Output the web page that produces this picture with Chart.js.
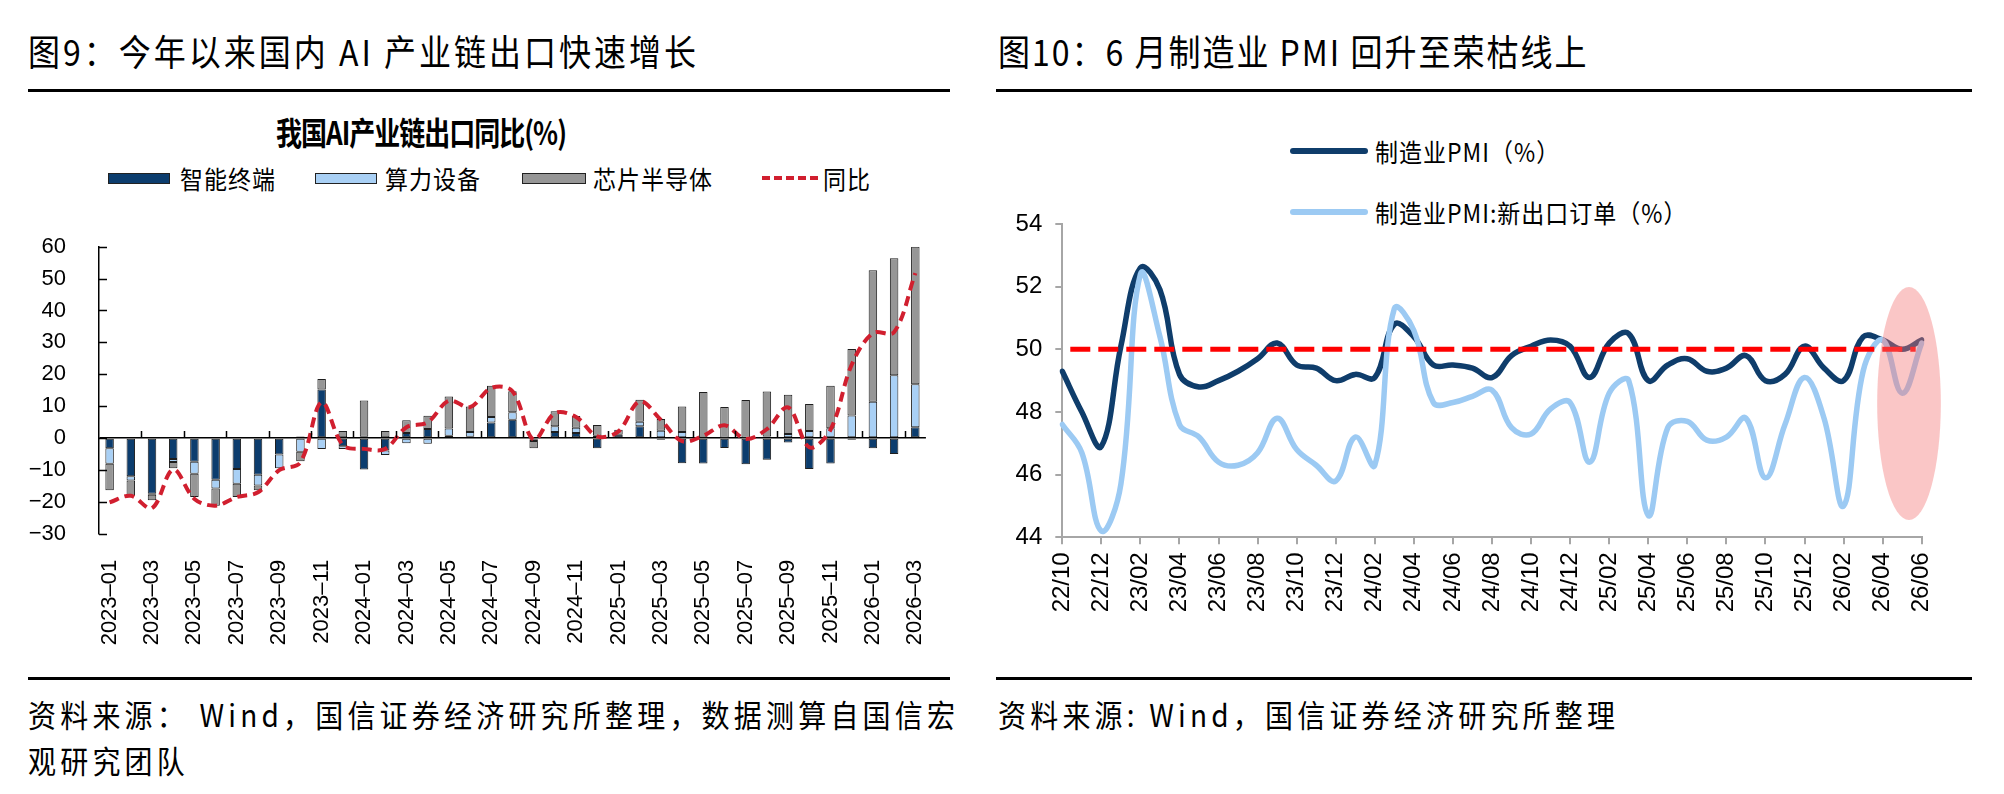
<!DOCTYPE html>
<html>
<head>
<meta charset="utf-8">
<script src="https://cdn.jsdelivr.net/npm/chart.js@4.4.1/dist/chart.umd.min.js"></script>
<style>
html,body{margin:0;padding:0;background:#fff;}
body{width:2004px;height:794px;position:relative;overflow:hidden;font-family:"Noto Sans CJK SC","Noto Sans",sans-serif;color:#000;}
.abs{position:absolute;white-space:nowrap;}
.title{font-size:32px;line-height:36px;height:36px;letter-spacing:3px;transform:scaleY(1.12);transform-origin:left center;}
.rule{position:absolute;height:3px;background:#000;}
.ctitle{font-size:26px;font-weight:700;line-height:30px;letter-spacing:-1px;text-align:center;transform:scaleY(1.22);}
.leg{font-size:23px;line-height:28px;letter-spacing:1px;transform:scaleY(1.1);transform-origin:left center;}
.box{position:absolute;height:9px;border:1px solid #222;}
.src{font-size:28px;line-height:34px;letter-spacing:4.2px;transform:scaleY(1.1);transform-origin:left center;}
canvas{position:absolute;}
</style>
</head>
<body>
<!-- Left panel -->
<div class="abs title" style="left:28px;top:32px;">图9：今年以来国内 AI 产业链出口快速增长</div>
<div class="rule" style="left:28px;top:89px;width:922px;"></div>
<div class="abs ctitle" style="left:0;width:842px;top:117px;">我国AI产业链出口同比(%)</div>

<div class="box" style="left:108px;top:173px;width:60px;background:#0c3d6e;"></div>
<div class="abs leg" style="left:180px;top:164px;">智能终端</div>
<div class="box" style="left:315px;top:173px;width:60px;background:#a9d0f5;"></div>
<div class="abs leg" style="left:385px;top:164px;">算力设备</div>
<div class="box" style="left:522px;top:173px;width:62px;background:#969696;"></div>
<div class="abs leg" style="left:593px;top:164px;">芯片半导体</div>
<div class="abs" style="left:762px;top:176px;width:56px;height:4px;background:repeating-linear-gradient(90deg,#d11f2f 0 8px,rgba(0,0,0,0) 8px 12px);"></div>
<div class="abs leg" style="left:823px;top:164px;">同比</div>

<canvas id="c1" width="960" height="460" style="left:0;top:200px;"></canvas>

<!-- Right panel -->
<div class="abs title" style="left:998px;top:32px;letter-spacing:2px;">图10：6 月制造业 PMI 回升至荣枯线上</div>
<div class="rule" style="left:996px;top:89px;width:976px;"></div>

<div class="abs" style="left:1290px;top:148px;width:78px;height:6px;border-radius:3px;background:#0f3d6b;"></div>
<div class="abs leg" style="left:1375px;top:137px;">制造业PMI（%）</div>
<div class="abs" style="left:1290px;top:209px;width:78px;height:6px;border-radius:3px;background:#9ccaf3;"></div>
<div class="abs leg" style="left:1375px;top:198px;">制造业PMI:新出口订单（%）</div>

<canvas id="c2" width="1044" height="470" style="left:960px;top:190px;"></canvas>

<!-- Sources -->
<div class="rule" style="left:28px;top:677px;width:922px;"></div>
<div class="rule" style="left:996px;top:677px;width:976px;"></div>
<div class="abs src" style="left:28px;top:697px;">资料来源： Wind，国信证券经济研究所整理，数据测算自国信宏</div>
<div class="abs src" style="left:28px;top:743px;">观研究团队</div>
<div class="abs src" style="left:998px;top:697px;">资料来源: Wind，国信证券经济研究所整理</div>

<script>
// ---------- Left chart data ----------
const months = ['2023-01','2023-02','2023-03','2023-04','2023-05','2023-06','2023-07','2023-08','2023-09','2023-10','2023-11','2023-12',
  '2024-01','2024-02','2024-03','2024-04','2024-05','2024-06','2024-07','2024-08','2024-09','2024-10','2024-11','2024-12',
  '2025-01','2025-02','2025-03','2025-04','2025-05','2025-06','2025-07','2025-08','2025-09','2025-10','2025-11','2025-12',
  '2026-01','2026-02','2026-03'];
const smartTerminal = [-3.2,-12.0,-17.5,-6.6,-7.4,-13.1,-9.7,-11.5,-5.2,0.5,15.2,-2.6,
  -9.9,-3.9,1.6,2.8,0.7,0.4,4.9,5.7,-0.4,1.9,1.6,-3.2,
  1.0,3.7,-0.5,-7.9,-8.0,-3.1,-8.2,-6.8,-1.4,-9.7,-8.0,-0.5,
  -3.2,-5.0,3.4];
const computeEquip = [-4.9,-1.3,-0.3,-0.9,-3.8,-2.7,-4.6,-3.4,-4.3,-4.3,-3.4,-0.8,
  0.4,-1.4,-1.6,-1.8,2.3,1.5,1.7,2.4,-0.5,1.8,1.6,0.7,
  0.0,1.4,2.3,1.9,0.2,0.1,0.1,0.5,1.3,2.2,3.1,7.1,
  11.4,19.7,13.5];
const chipSemi = [-8.3,-4.8,-1.7,-2.0,-7.3,-5.4,-4.2,-1.5,0.0,-3.0,3.3,2.2,
  11.4,2.2,4.0,4.2,10.0,8.0,9.8,6.6,-2.3,4.7,3.7,3.4,
  1.6,6.9,3.7,8.0,14.2,9.6,11.8,14.1,12.3,8.5,13.3,20.8,
  41.2,36.7,43.1];
const yoy = [-20.2,-18.1,-22.0,-9.9,-19.1,-21.2,-18.5,-17.0,-10.1,-7.6,11.2,-2.2,
  -3.4,-3.4,3.4,4.9,11.7,9.7,15.7,14.7,-0.5,7.8,6.6,0.5,
  2.1,11.5,5.7,-1.0,0.7,4.0,-0.3,2.8,9.6,-2.9,2.6,23.0,
  32.9,33.2,51.7];
const leftAxis = {min:-30, max:60, step:10};

// ---------- Right chart data ----------
const pmiMonths = ['22/10','22/11','22/12','23/01','23/02','23/03','23/04','23/05','23/06','23/07','23/08','23/09','23/10','23/11','23/12',
  '24/01','24/02','24/03','24/04','24/05','24/06','24/07','24/08','24/09','24/10','24/11','24/12',
  '25/01','25/02','25/03','25/04','25/05','25/06','25/07','25/08','25/09','25/10','25/11','25/12',
  '26/01','26/02','26/03','26/04','26/05','26/06'];
const pmi = [49.3,48.0,46.9,50.1,52.6,51.9,49.2,48.8,49.0,49.3,49.7,50.2,49.5,49.4,49.0,
  49.2,49.1,50.8,50.4,49.5,49.5,49.4,49.1,49.8,50.1,50.3,50.1,
  49.1,50.2,50.5,49.0,49.5,49.7,49.3,49.4,49.8,49.0,49.2,50.1,
  49.4,49.0,50.4,50.3,50.0,50.3];
const pmiNewExport = [47.6,46.7,44.2,45.7,52.4,50.4,47.6,47.2,46.4,46.3,46.7,47.8,46.8,46.3,45.8,
  47.2,46.3,51.3,50.6,48.3,48.3,48.5,48.7,47.5,47.3,48.1,48.3,
  46.4,48.6,49.0,44.7,47.5,47.7,47.1,47.2,47.8,45.9,47.6,49.1,
  47.8,45.0,49.3,50.3,48.6,50.2];
const boomBustLine = 50;
const rightAxis = {min:44, max:54, step:2};
const highlight = {fromIndex:41.72, toIndex:44.98, yMin:44.55, yMax:51.99};

const numFont = 'Liberation Sans, Arial, sans-serif';
const minus = s => String(s).replace('-', '\u2212');

// ---------- Left chart ----------
const innerTicks = {
  id:'innerTicks',
  afterDraw(chart){
    const {ctx, scales:{x, y}} = chart;
    ctx.save();
    ctx.strokeStyle = '#000';
    ctx.lineWidth = 1.5;
    ctx.beginPath();
    y.ticks.forEach((t, i) => {
      const py = Math.round(y.getPixelForTick(i)) + 0.5;
      ctx.moveTo(y.right, py); ctx.lineTo(y.right + 8, py);
    });
    const zero = y.getPixelForValue(0);
    for (let k = 1; k < months.length - 1; k += 2) {
      const px = Math.round((x.getPixelForValue(k) + x.getPixelForValue(k + 1)) / 2) + 0.5;
      ctx.moveTo(px, zero); ctx.lineTo(px, zero - 7);
    }
    ctx.stroke();
    ctx.restore();
  }
};

const barCommon = {borderColor:'#1e1e1e', borderWidth:1, borderSkipped:false, stack:'bars', order:1,
  barPercentage:0.4, categoryPercentage:1.0};

new Chart(document.getElementById('c1'), {
  type:'bar',
  data:{
    labels: months,
    datasets:[
      Object.assign({label:'智能终端', data:smartTerminal, backgroundColor:'#0c3d6e'}, barCommon),
      Object.assign({label:'算力设备', data:computeEquip, backgroundColor:'#a9d0f5'}, barCommon),
      Object.assign({label:'芯片半导体', data:chipSemi, backgroundColor:'#969696'}, barCommon),
      {type:'line', label:'同比', data:yoy, borderColor:'#d11f2f', borderWidth:4, borderDash:[10,6],
       tension:0.35, pointRadius:0, fill:false, stack:'line', order:0, borderCapStyle:'butt'}
    ]
  },
  options:{
    responsive:false, animation:false, devicePixelRatio:1,
    layout:{padding:{top:46.7, right:22.5, left:0, bottom:0}},
    plugins:{legend:{display:false}, tooltip:{enabled:false}},
    scales:{
      x:{stacked:true, grid:{display:false}, border:{display:false},
         ticks:{autoSkip:false, maxRotation:90, minRotation:90, padding:18, color:'#000',
                font:{family:numFont, size:22},
                callback:(v, i) => i % 2 === 0 ? months[i].replace('-', '\u2013') : ''},
         afterFit:s => { s.height = 126.3; }},
      y:{stacked:true, min:leftAxis.min, max:leftAxis.max,
         ticks:{stepSize:leftAxis.step, padding:33, color:'#000', font:{family:numFont, size:22},
                callback:v => minus(v)},
         grid:{drawTicks:false, lineWidth:1.5,
               color:c => (c.tick && c.tick.value === 0) ? '#000' : 'rgba(0,0,0,0)'},
         border:{color:'#000', width:1.5},
         afterFit:s => { s.width = 99; }}
    }
  },
  plugins:[innerTicks]
});

// ---------- Right chart ----------
const overlay = {
  id:'overlay',
  afterDatasetsDraw(chart){
    const {ctx, chartArea, scales:{x, y}} = chart;
    ctx.save();
    // 荣枯线 (50)
    const py = y.getPixelForValue(boomBustLine);
    ctx.strokeStyle = '#ff0000';
    ctx.lineWidth = 5;
    ctx.setLineDash([20, 8]);
    ctx.beginPath();
    ctx.moveTo(chartArea.left + 8, py);
    ctx.lineTo(chartArea.right - 6, py);
    ctx.stroke();
    ctx.setLineDash([]);
    // highlight ellipse
    const x0 = x.getPixelForValue(highlight.fromIndex), x1 = x.getPixelForValue(highlight.toIndex);
    const y0 = y.getPixelForValue(highlight.yMax), y1 = y.getPixelForValue(highlight.yMin);
    ctx.fillStyle = 'rgba(242,120,120,0.42)';
    ctx.beginPath();
    ctx.ellipse((x0 + x1) / 2, (y0 + y1) / 2, Math.abs(x1 - x0) / 2, Math.abs(y1 - y0) / 2, 0, 0, Math.PI * 2);
    ctx.fill();
    ctx.restore();
  }
};

const axisGray = '#a6a6a6';
new Chart(document.getElementById('c2'), {
  type:'line',
  data:{
    labels: pmiMonths,
    datasets:[
      {label:'制造业PMI（%）', data:pmi, borderColor:'#0f3d6b', borderWidth:5.5, tension:0.4,
       pointRadius:0, fill:false, order:2, borderCapStyle:'round', borderJoinStyle:'round'},
      {label:'制造业PMI:新出口订单（%）', data:pmiNewExport, borderColor:'#9ccaf3', borderWidth:5.5, tension:0.4,
       pointRadius:0, fill:false, order:1, borderCapStyle:'round', borderJoinStyle:'round'}
    ]
  },
  options:{
    responsive:false, animation:false, devicePixelRatio:1,
    layout:{padding:{top:34, right:82.3, left:0, bottom:0}},
    plugins:{legend:{display:false}, tooltip:{enabled:false}},
    scales:{
      x:{offset:false,
         grid:{drawOnChartArea:false, drawTicks:true, tickLength:7, lineWidth:2,
               color:c => (c.index % 2 === 0) ? axisGray : 'rgba(0,0,0,0)'},
         border:{color:axisGray, width:2},
         ticks:{autoSkip:false, maxRotation:90, minRotation:90, padding:8, color:'#000',
                font:{family:numFont, size:24},
                callback:(v, i) => i % 2 === 0 ? pmiMonths[i] : ''},
         afterFit:s => { s.height = 122.7; }},
      y:{min:rightAxis.min, max:rightAxis.max,
         ticks:{stepSize:rightAxis.step, padding:13, color:'#000', font:{family:numFont, size:24}},
         grid:{drawOnChartArea:false, drawTicks:true, tickLength:7, lineWidth:2, color:axisGray},
         border:{color:axisGray, width:2},
         afterFit:s => { s.width = 102.3; }}
    }
  },
  plugins:[overlay]
});
</script>
</body>
</html>
